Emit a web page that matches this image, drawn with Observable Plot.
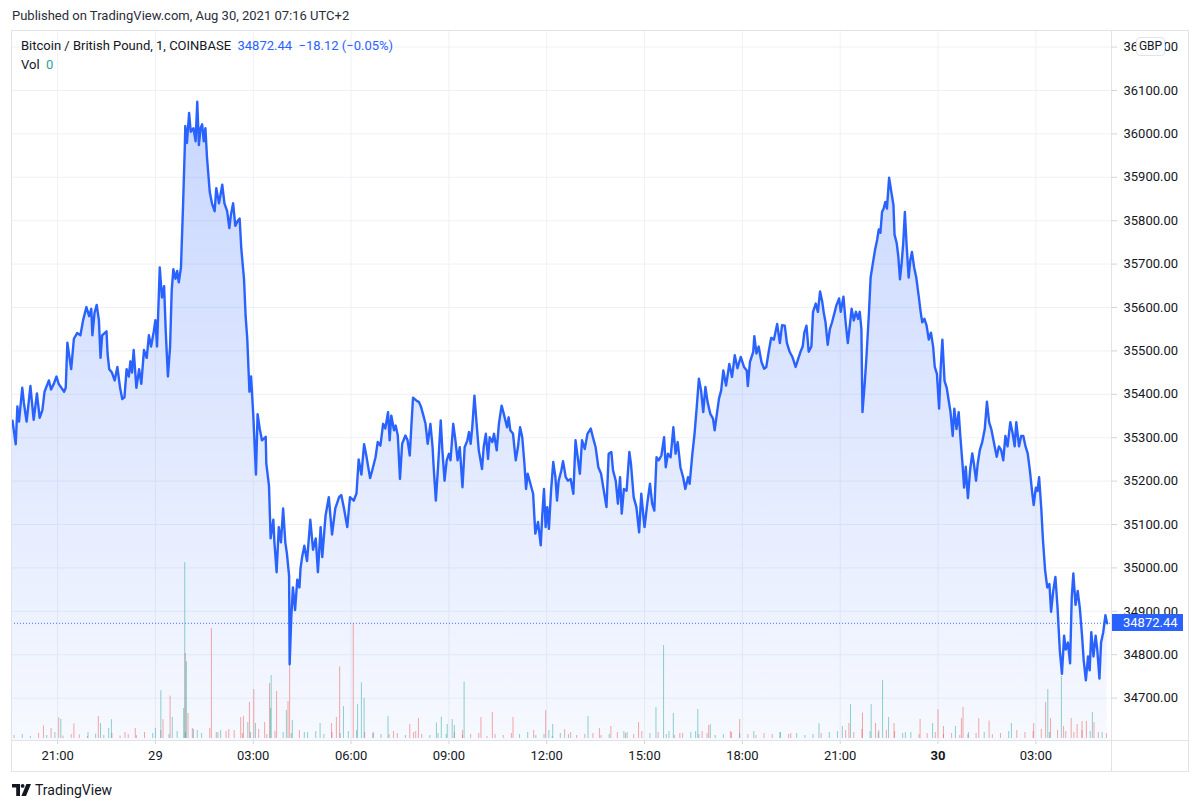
<!DOCTYPE html>
<html>
<head>
<meta charset="utf-8">
<script src="https://cdn.jsdelivr.net/npm/d3@7"></script>
<script src="https://cdn.jsdelivr.net/npm/@observablehq/plot@0.6"></script>
<style>
html,body{margin:0;padding:0;background:#fff;}
body{width:1200px;height:809px;position:relative;overflow:hidden;font-family:Roboto,"Noto Sans",sans-serif;color:#131722;}
.abs{position:absolute;}
#pub{left:12px;top:8px;font-size:13px;line-height:16px;color:#2a2e39;white-space:nowrap;}
#chart{left:11px;top:30px;width:1177px;height:741px;}
#chart svg{position:absolute;left:0;top:0;}
#frame{left:11px;top:30px;width:1178px;height:742px;box-sizing:border-box;border:1px solid #e0e3eb;pointer-events:none;}
#vsep{left:1111px;top:30px;width:1px;height:741px;background:#e0e3eb;}
#hsep{left:11px;top:740px;width:1177px;height:1px;background:#e0e3eb;}
#legend1{left:21px;top:38px;font-size:13px;line-height:16px;white-space:nowrap;}
#legend2{left:21px;top:57px;font-size:13px;line-height:16px;white-space:nowrap;}
.blue{color:#2962ff;}
.teal{color:#26a69a;}
#gbp{left:1136px;top:37px;width:29px;height:19px;box-sizing:border-box;border:1px solid #e0e3eb;border-radius:4px;background:#fff;font-size:12px;line-height:17px;text-align:center;color:#131722;}
#last{left:1112px;width:71px;height:17px;background:#2962ff;color:#fff;font-size:13px;line-height:17px;padding-left:11px;box-sizing:border-box;}
#footer{left:12px;top:781px;height:18px;font-size:14px;line-height:18px;color:#131722;white-space:nowrap;}
#footer svg{vertical-align:-1px;margin-right:4px;}
</style>
</head>
<body>
<div id="pub" class="abs">Published on TradingView.com, Aug 30, 2021 07:16 UTC+2</div>
<div id="chart" class="abs"></div>
<div id="legend1" class="abs">Bitcoin / British Pound, 1, COINBASE&nbsp;&nbsp;<span class="blue" id="lv"></span></div>
<div id="legend2" class="abs">Vol&nbsp;&nbsp;<span class="teal">0</span></div>
<div id="vsep" class="abs"></div>
<div id="hsep" class="abs"></div>
<div id="frame" class="abs"></div>
<div id="gbp" class="abs">GBP</div>
<div id="last" class="abs"></div>
<div id="footer" class="abs"><svg width="19" height="12" viewBox="0 0 19 12"><path d="M0 0H8V12H4.2V3.6H0Z" fill="#131722"/><circle cx="10.6" cy="1.9" r="1.9" fill="#131722"/><path d="M14.4 0H19L14 12H9.4Z" fill="#131722"/></svg>TradingView</div>

<script>
// ---- Data (chart-local time UTC+2; minutes after 28 Aug 2021 19:30) ----
const lastPrice = 34872.44;
const change = -18.12;
const changePct = -0.05;

// price readings: [minutes after start, price GBP]
const priceA = [[7,35339],[13,35285],[16,35372],[19,35337],[25,35415],[28,35380],[33,35337],[40,35419],[46,35341],[52,35402],[57,35346],[62,35363],[66,35406],[74,35432],[78,35411],[83,35424],[88,35441],[92,35424],[102,35406],[105,35415],[108,35519],[115,35458],[120,35528],[126,35541],[132,35536],[137,35571],[143,35601],[148,35580],[152,35597],[154,35536],[158,35588],[162,35606],[166,35571],[169,35484],[172,35536],[180,35545],[182,35493],[185,35458],[190,35450],[195,35432],[200,35463],[205,35415],[209,35389],[213,35393],[217,35458],[221,35441],[224,35476],[227,35450],[230,35502],[235,35415],[240,35458],[244,35424],[249,35502],[254,35484],[258,35536],[262,35510],[267,35545],[270,35571],[273,35510],[278,35692],[282,35623],[286,35649],[289,35545],[293,35441],[297,35510],[300,35640],[303,35688],[307,35666],[310,35684],[313,35658],[317,35692],[321,35840],[324,35966],[325,36018],[328,35979],[332,36048],[335,36005],[340,36013],[344,35983],[347,36074],[350,35974],[353,36013],[356,36022],[359,35983],[362,36013],[365,35944],[370,35866],[374,35840],[379,35822],[382,35875],[387,35840],[393,35883],[397,35840],[402,35822],[406,35783],[409,35814],[413,35840],[417,35788],[422,35801],[425,35805],[428,35736],[433,35666],[436,35580],[439,35528],[443,35406],[446,35441],[450,35354],[455,35215],[458,35354],[462,35320],[466,35294],[473,35302],[474,35241],[479,35189],[482,35068],[487,35111],[489,35059],[493,34990],[497,35094],[501,35059],[505,35137],[509,35059],[512,35033],[516,34981],[517,34778],[520,34886],[523,34955],[527,34903],[531,34973],[535,34955],[537,34999],[540,35025],[544,35051],[549,35016],[555,35111],[560,35042],[565,35068],[569,34990],[574,35094],[577,35025],[583,35120],[589,35163],[595,35077],[601,35137],[608,35163],[612,35168],[617,35137],[623,35094],[628,35163],[635,35155],[640,35172],[644,35250],[649,35215],[654,35285],[658,35259],[665,35207]];
const priceB = [[669,35225],[675,35255],[679,35290],[684,35282],[689,35332],[693,35321],[698,35359],[701,35294],[704,35351],[709,35317],[712,35328],[716,35305],[720,35205],[724,35286],[730,35305],[734,35294],[738,35259],[741,35328],[744,35392],[750,35386],[755,35382],[759,35370],[764,35347],[767,35332],[771,35286],[776,35332],[780,35278],[782,35232],[786,35155],[790,35232],[795,35340],[798,35271],[802,35201],[806,35248],[810,35263],[813,35248],[818,35332],[822,35294],[826,35248],[830,35278],[835,35186],[839,35278],[844,35294],[847,35313],[850,35286],[853,35324],[857,35397],[861,35332],[865,35271],[871,35228],[874,35278],[878,35309],[882,35251],[885,35301],[890,35290],[893,35309],[898,35271],[902,35332],[907,35374],[911,35355],[917,35324],[920,35347],[923,35317],[928,35309],[933,35248],[937,35278],[941,35324],[945,35301],[949,35240],[952,35182],[955,35217],[960,35194],[965,35171],[969,35079],[974,35106],[979,35052],[982,35125],[985,35182],[988,35094],[991,35140],[994,35090],[998,35178],[1002,35244],[1006,35209],[1009,35155],[1012,35201],[1017,35225],[1020,35246],[1025,35209],[1029,35201],[1034,35205],[1039,35171],[1043,35294],[1047,35255],[1051,35217],[1055,35294],[1060,35274],[1065,35309],[1071,35321],[1075,35301],[1080,35278],[1085,35232],[1090,35217],[1095,35178],[1100,35140],[1104,35263],[1109,35267],[1112,35225],[1117,35201],[1121,35148],[1125,35209],[1128,35125],[1132,35182],[1137,35178],[1142,35267],[1145,35240],[1150,35163],[1155,35140],[1160,35082],[1164,35171],[1168,35117],[1170,35094],[1175,35148],[1180,35194],[1184,35148],[1188,35132],[1192,35255],[1196,35248],[1201,35259],[1206,35301],[1209,35232],[1213,35263],[1218,35255],[1223,35324],[1227,35263],[1231,35290],[1236,35232],[1241,35209],[1245,35182],[1250,35209],[1253,35194],[1258,35263],[1262,35309],[1266,35370],[1270,35436],[1274,35409],[1278,35359],[1282,35417],[1286,35382],[1291,35355],[1296,35344],[1299,35317],[1304,35363],[1307,35390],[1311,35409],[1315,35455],[1320,35420],[1326,35470],[1331,35440],[1336,35490],[1341,35460]];
const priceC = [[1347,35486],[1353,35463],[1358,35455],[1360,35419],[1364,35475],[1370,35498],[1372,35534],[1376,35494],[1380,35510],[1385,35475],[1390,35459],[1394,35463],[1399,35502],[1403,35530],[1408,35526],[1414,35562],[1419,35518],[1423,35559],[1428,35558],[1432,35518],[1437,35498],[1442,35486],[1448,35463],[1452,35479],[1457,35498],[1461,35510],[1464,35542],[1468,35558],[1472,35498],[1477,35510],[1480,35590],[1485,35609],[1489,35590],[1493,35637],[1497,35613],[1500,35586],[1503,35566],[1507,35514],[1511,35550],[1515,35566],[1520,35590],[1523,35605],[1528,35621],[1531,35590],[1536,35625],[1540,35566],[1544,35518],[1548,35562],[1551,35597],[1555,35570],[1559,35590],[1563,35574],[1566,35590],[1569,35550],[1571,35359],[1575,35423],[1578,35479],[1583,35590],[1586,35669],[1590,35701],[1594,35732],[1598,35756],[1601,35780],[1604,35772],[1607,35820],[1610,35828],[1613,35843],[1616,35828],[1620,35899],[1624,35867],[1628,35836],[1630,35768],[1634,35748],[1637,35717],[1640,35665],[1643,35701],[1646,35748],[1649,35820],[1652,35748],[1656,35669],[1659,35709],[1662,35728],[1666,35693],[1670,35669],[1675,35621],[1678,35590],[1681,35566],[1685,35574],[1689,35558],[1693,35526],[1697,35542],[1701,35510],[1704,35463],[1708,35447],[1712,35367],[1715,35463],[1718,35526],[1722,35431],[1726,35415],[1730,35383],[1733,35359],[1737,35304],[1740,35367],[1744,35320],[1748,35359],[1751,35304],[1755,35240],[1758,35185],[1761,35233],[1765,35161],[1769,35225],[1773,35264],[1776,35240],[1780,35201],[1783,35240],[1787,35272],[1791,35288],[1796,35320],[1800,35383],[1804,35336],[1808,35320],[1813,35288],[1818,35256],[1822,35280],[1826,35272],[1830,35248],[1834,35304],[1838,35280],[1843,35336],[1847,35312],[1851,35280],[1854,35336],[1859,35280],[1863,35304],[1867,35304],[1871,35280],[1875,35264],[1879,35225],[1883,35177],[1886,35145],[1890,35185],[1893,35177],[1896,35209],[1900,35137],[1903,35066],[1907,34995],[1911,34955],[1915,34963],[1918,34899],[1922,34947],[1926,34979],[1930,34907],[1934,34812],[1938,34756],[1942,34844],[1945,34812],[1949,34828],[1953,34780],[1956,34931],[1959,34987],[1963,34915],[1967,34947],[1971,34907],[1975,34844],[1978,34788],[1982,34741],[1986,34796],[1989,34764],[1992,34852],[1996,34796],[2000,34844],[2003,34812],[2007,34745],[2010,34828],[2014,34852],[2018,34891],[2021,34872.44]];

// notable volume bars: [minutes, volume, direction]
const volSpikes = [[64,0.63,"d"],[78,0.50,"d"],[92,1.03,"d"],[96,0.95,"u"],[120,0.73,"d"],[146,0.30,"u"],[165,1.10,"d"],[169,0.75,"u"],[184,0.50,"u"],[189,0.94,"u"],[214,0.30,"d"],[233,0.50,"d"],[270,0.50,"u"],[280,2.39,"u"],[284,0.94,"d"],[297,2.12,"d"],[301,1.05,"u"],[322,1.50,"u"],[324,8.79,"u"],[325,4.25,"d"],[327,3.84,"u"],[330,1.25,"d"],[338,0.50,"d"],[347,0.40,"u"],[373,5.49,"d"],[382,0.30,"u"],[390,0.40,"u"],[405,0.45,"d"],[427,1.05,"d"],[432,1.10,"d"],[440,0.80,"u"],[443,1.80,"d"],[451,2.45,"d"],[454,0.75,"u"],[471,0.80,"d"],[480,2.75,"d"],[482,1.50,"u"],[483,3.15,"u"],[493,2.35,"d"],[511,1.40,"u"],[514,1.85,"d"],[517,3.65,"d"],[522,0.90,"u"],[544,0.30,"u"],[573,0.75,"u"],[594,0.75,"d"],[603,1.05,"d"],[609,3.58,"d"],[616,1.60,"u"],[634,5.75,"d"],[642,1.70,"u"],[649,2.78,"u"],[654,2.00,"u"],[671,0.30,"d"],[698,1.10,"u"],[708,0.35,"d"],[738,0.70,"d"],[749,0.35,"d"],[754,1.00,"d"],[787,0.78,"u"],[796,1.07,"u"],[807,0.70,"u"],[816,0.95,"u"],[820,0.65,"u"],[835,0.40,"d"],[838,2.82,"u"],[869,1.05,"d"],[890,1.30,"d"],[928,1.05,"d"],[966,0.40,"d"],[988,1.38,"d"],[994,0.40,"u"],[1001,0.70,"u"],[1023,0.45,"d"],[1034,0.30,"d"],[1066,1.10,"u"],[1087,0.50,"d"],[1108,0.60,"d"],[1132,0.35,"u"],[1138,0.30,"u"],[1159,0.80,"d"],[1191,1.54,"u"],[1205,4.65,"u"],[1215,0.35,"u"],[1223,1.25,"u"],[1235,0.25,"d"],[1264,0.35,"u"],[1268,1.45,"u"],[1276,0.35,"d"],[1288,0.65,"d"],[1291,0.70,"u"],[1328,0.35,"d"],[1345,0.95,"d"],[1371,0.35,"u"],[1419,0.30,"u"],[1439,0.25,"d"],[1491,0.74,"u"],[1534,0.60,"u"],[1546,0.75,"d"],[1549,1.70,"u"],[1571,1.27,"d"],[1587,1.69,"u"],[1595,0.75,"d"],[1601,0.40,"d"],[1608,2.90,"u"],[1619,1.05,"u"],[1629,0.75,"d"],[1650,0.30,"u"],[1677,0.95,"d"],[1700,0.75,"u"],[1710,1.44,"d"],[1720,0.60,"d"],[1742,0.60,"u"],[1753,0.99,"d"],[1756,1.55,"d"],[1766,0.30,"u"],[1785,0.99,"d"],[1804,0.87,"d"],[1845,0.75,"u"],[1886,0.75,"d"],[1908,1.80,"d"],[1912,2.45,"u"],[1917,1.00,"d"],[1937,3.10,"u"],[1941,0.60,"d"],[1955,1.00,"d"],[1966,0.70,"d"],[1975,0.85,"d"],[1983,0.85,"d"],[1994,1.30,"u"],[1997,0.80,"d"],[2012,0.30,"u"]];

// background volume readings, one every 15 minutes from minute 10
const baseVolStart = 10, baseVolStep = 15;
const baseVol = [0.15,0.2,0.1,0.25,0.15,0.3,0.12,0.2,0.18,0.1,0.22,0.15,0.25,0.12,0.2,0.15,
0.3,0.25,0.4,0.2,0.35,0.3,0.45,0.25,0.5,0.3,0.35,0.4,0.25,0.3,0.45,0.2,0.35,0.3,0.25,0.4,0.3,0.35,0.2,0.3,0.25,0.35,0.4,0.3,0.25,0.2,
0.2,0.25,0.15,0.3,0.2,0.15,0.25,0.2,0.3,0.15,0.2,0.25,0.1,0.2,0.15,0.25,0.2,0.3,0.15,0.2,0.1,0.25,0.2,0.15,0.2,0.25,0.15,
0.2,0.3,0.25,0.2,0.35,0.25,0.3,0.2,0.15,0.25,0.3,0.2,0.25,0.15,0.2,0.3,0.25,0.2,0.15,0.25,0.2,0.3,0.2,0.25,0.15,0.2,0.25,
0.3,0.35,0.4,0.3,0.45,0.35,0.3,0.4,0.35,0.25,0.3,0.2,0.25,0.3,0.2,0.25,0.15,0.2,0.25,0.3,0.2,0.25,0.35,0.4,0.3,0.35,0.45,0.3,0.4,0.35,0.3,0.4,0.35,0.3,0.25];

// axis ticks
const xTickTimes = ["2021-08-28T21:00","2021-08-29T00:00","2021-08-29T03:00","2021-08-29T06:00","2021-08-29T09:00","2021-08-29T12:00","2021-08-29T15:00","2021-08-29T18:00","2021-08-29T21:00","2021-08-30T00:00","2021-08-30T03:00"];
const yTicks = [34700,34800,34900,35000,35100,35200,35300,35400,35500,35600,35700,35800,35900,36000,36100,36200];
const xStartMin = 5.2, xEndMin = 2029.2;
const yMin = 34602.4, yMax = 36238.2;

// ---- Build ----
const T0 = Date.UTC(2021, 7, 28, 19, 30);
const at = m => new Date(T0 + m * 60000);
const allPrice = [...priceA, ...priceB, ...priceC];
const price = allPrice.map(([m, p]) => ({t: at(m), p}));
const xTicks = xTickTimes.map(s => new Date(s + ":00Z"));
const xDomain = [at(xStartMin), at(xEndMin)];

const bis = d3.bisector(d => d[0]).left;
function dirAt(m) {
  const i = bis(allPrice, m);
  if (i <= 0) return "u";
  const j = Math.min(i, allPrice.length - 1);
  return allPrice[j][1] >= allPrice[i - 1][1] ? "u" : "d";
}
const vols = [
  ...baseVol.map((v, i) => { const m = baseVolStart + i * baseVolStep; return {t: at(m), v, dir: dirAt(m)}; }),
  ...volSpikes.map(([m, v, dir]) => ({t: at(m), v, dir}))
];

const W = 1177, H = 741, MR = 77, MB = 31;
const fmtHM = d3.utcFormat("%H:%M");

const gradient = (index, scales, values, dims) => {
  const defs = d3.create("svg:defs");
  const g = defs.append("linearGradient").attr("id", "areaGrad")
    .attr("gradientUnits", "userSpaceOnUse")
    .attr("x1", 0).attr("x2", 0).attr("y1", dims.marginTop).attr("y2", dims.height - dims.marginBottom);
  g.append("stop").attr("offset", "0").attr("stop-color", "#2962ff").attr("stop-opacity", 0.28);
  g.append("stop").attr("offset", "1").attr("stop-color", "#2962ff").attr("stop-opacity", 0.04);
  return defs.node();
};

const main = Plot.plot({
  width: W, height: H,
  marginLeft: 0, marginRight: MR, marginTop: 0, marginBottom: MB,
  style: {fontFamily: "Roboto, 'Noto Sans', sans-serif", fontSize: "13px", color: "#131722", background: "transparent", overflow: "visible"},
  x: {type: "utc", domain: xDomain, ticks: xTicks, tickSize: 4, tickPadding: 6, label: null,
      tickFormat: d => d.getUTCHours() === 0 && d.getUTCMinutes() === 0 ? String(d.getUTCDate()) : fmtHM(d)},
  y: {domain: [yMin, yMax], ticks: yTicks, axis: "right", tickSize: 5, tickPadding: 7, label: null,
      tickFormat: d => d.toFixed(2)},
  marks: [
    gradient,
    Plot.ruleX(xTicks, {stroke: "#eef1f7", strokeWidth: 1}),
    Plot.ruleY(yTicks, {stroke: "#eef1f7", strokeWidth: 1}),
    Plot.areaY(price, {x: "t", y1: yMin, y2: "p", fill: "url(#areaGrad)"}),
    Plot.ruleY([lastPrice], {stroke: "#2962ff", strokeWidth: 1, strokeDasharray: "1 2", strokeOpacity: 0.9}),
    Plot.lineY(price, {x: "t", y: "p", stroke: "#2962ff", strokeWidth: 2.4, strokeLinejoin: "round", strokeLinecap: "round"})
  ]
});

const volPlot = Plot.plot({
  width: W, height: H,
  marginLeft: 0, marginRight: MR, marginTop: 0, marginBottom: MB + 2,
  style: {background: "transparent"},
  x: {type: "utc", domain: xDomain, axis: null},
  y: {domain: [0, (H - MB - 2) / 20], axis: null},
  marks: [
    Plot.ruleX(vols.filter(d => d.dir === "d"), {x: "t", y1: 0, y2: "v", stroke: "#ef5350", strokeOpacity: 0.5, strokeWidth: 1}),
    Plot.ruleX(vols.filter(d => d.dir === "u"), {x: "t", y1: 0, y2: "v", stroke: "#26a69a", strokeOpacity: 0.5, strokeWidth: 1})
  ]
});

const chart = document.getElementById("chart");
chart.appendChild(main);
chart.appendChild(volPlot);

// axis styling
const sel = d3.select(main);
sel.selectAll('[aria-label="x-axis tick"], [aria-label="y-axis tick"]').attr("stroke", "#d1d4dc");
sel.selectAll("text").filter(function() { return this.textContent === "30"; }).attr("font-weight", "bold");

// legend values
document.getElementById("lv").innerHTML =
  lastPrice.toFixed(2) + "&nbsp;&nbsp;" + "\u2212" + Math.abs(change).toFixed(2) + " (\u2212" + Math.abs(changePct).toFixed(2) + "%)";

// last price label positioned with the library's y scale
const ys = main.scale("y");
const yOf = ys.apply ? v => ys.apply(v) :
  v => ys.range[0] + (v - ys.domain[0]) / (ys.domain[1] - ys.domain[0]) * (ys.range[1] - ys.range[0]);
const last = document.getElementById("last");
last.textContent = lastPrice.toFixed(2);
last.style.top = (30 + yOf(lastPrice) - 8.5) + "px";
</script>
</body>
</html>
